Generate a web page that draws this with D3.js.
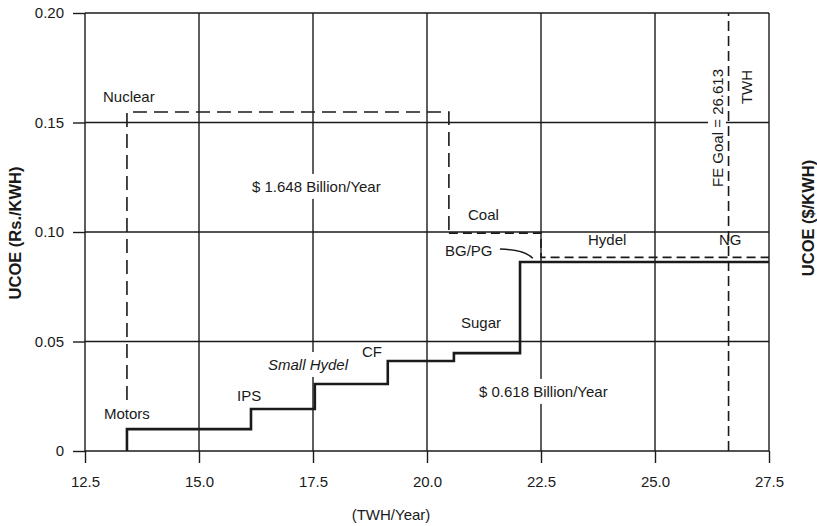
<!DOCTYPE html>
<html>
<head>
<meta charset="utf-8">
<script src="https://cdn.jsdelivr.net/npm/d3@7"></script>
<style>
  html, body { margin: 0; padding: 0; background: #fff; }
  svg { display: block; font-family: "Liberation Sans", Arial, Helvetica, sans-serif; }
</style>
</head>
<body>
<svg id="chart" width="817" height="526"></svg>
<script>
// ---- data ----
const xTicks = [12.5, 15, 17.5, 20, 22.5, 25, 27.5];
const xTickLabels = ["12.5", "15.0", "17.5", "20.0", "22.5", "25.0", "27.5"];
const yTicks = [0, 0.05, 0.10, 0.15, 0.20];
const yTickLabels = ["0", "0.05", "0.10", "0.15", "0.20"];

// renewable supply step curve (TWH/Year breakpoints, UCOE levels)
const supplyBreaks = [13.42, 16.14, 17.54, 19.14, 20.59, 22.04, 27.5];
const supplyCost = [0.010, 0.0192, 0.0306, 0.0411, 0.0447, 0.0863];
const supplyNames = ["Motors", "IPS", "Small Hydel", "CF", "Sugar", "BG/PG"];

// conventional supply (dashed)
const convBreaks = [13.42, 20.48, 22.5, 27.5];
const convCost = [0.1548, 0.0995, 0.0884];
const convNames = ["Nuclear", "Coal", "Hydel / NG"];
const convStartCost = 0.0233;

const feGoal = 26.613;

// annotations (data units)
const labels = [
  { t: "Nuclear", x: 12.895, y: 0.1594 },
  { t: "$ 1.648 Billion/Year", x: 16.162, y: 0.1183, bg: true },
  { t: "Coal", x: 20.899, y: 0.1055 },
  { t: "BG/PG", x: 20.395, y: 0.0890 },
  { t: "Hydel", x: 23.531, y: 0.0941 },
  { t: "NG", x: 26.404, y: 0.0941 },
  { t: "Sugar", x: 20.746, y: 0.0562 },
  { t: "CF", x: 18.575, y: 0.0429 },
  { t: "Small Hydel", x: 16.513, y: 0.0370, italic: true, bg: true },
  { t: "IPS", x: 15.833, y: 0.0228 },
  { t: "Motors", x: 12.917, y: 0.0146 },
  { t: "$ 0.618 Billion/Year", x: 21.140, y: 0.0247, bg: true }
];
const rotLabels = [
  { t: "FE Goal = 26.613", x: 26.49, y: 0.1475, bg: true },
  { t: "TWH", x: 27.13, y: 0.1662 }
];
const arrow = { x0: 21.60, y0: 0.0922, cx: 22.15, cy: 0.0918, x1: 22.32, y1: 0.0880 };

// ---- layout ----
const W = 817, H = 526;
const m = { left: 85, right: 48, top: 13, bottom: 75 };
const ink = "#1a1a1a";
const svg = d3.select("#chart");
const x = d3.scaleLinear().domain([12.5, 27.5]).range([m.left, W - m.right]);
const y = d3.scaleLinear().domain([0, 0.20]).range([H - m.bottom, m.top]);

// grid + frame
const grid = svg.append("g").attr("stroke", ink).attr("stroke-width", 1.4);
xTicks.forEach(v => grid.append("line")
  .attr("x1", x(v)).attr("x2", x(v)).attr("y1", y(0)).attr("y2", y(0.20)));
yTicks.forEach(v => grid.append("line")
  .attr("x1", x(12.5)).attr("x2", x(27.5)).attr("y1", y(v)).attr("y2", y(v)));

// axes
const xAxis = d3.axisBottom(x).tickValues(xTicks)
  .tickFormat((d, i) => xTickLabels[i]).tickSize(12).tickPadding(13);
const gx = svg.append("g").attr("transform", `translate(0,${y(0)})`).call(xAxis);
const yAxis = d3.axisLeft(y).tickValues(yTicks)
  .tickFormat((d, i) => yTickLabels[i]).tickSize(12).tickPadding(9);
const gy = svg.append("g").attr("transform", `translate(${x(12.5)},0)`).call(yAxis);
[gx, gy].forEach(g => {
  g.select(".domain").remove();
  g.selectAll(".tick line").attr("stroke", ink).attr("stroke-width", 1.4);
  g.selectAll(".tick text").attr("fill", ink).attr("font-size", 15)
    .attr("font-family", "'Liberation Sans', Arial, sans-serif");
});

// label layer with white backgrounds
const bgLayer = svg.append("g");
const lineLayer = svg.append("g");
const textLayer = svg.append("g").attr("fill", ink).attr("font-size", 15);

labels.forEach(l => {
  const t = textLayer.append("text")
    .attr("x", x(l.x)).attr("y", y(l.y))
    .attr("font-style", l.italic ? "italic" : null)
    .text(l.t);
  if (l.bg) {
    const b = t.node().getBBox();
    bgLayer.append("rect").attr("x", b.x - 3).attr("y", b.y - 4)
      .attr("width", b.width + 6).attr("height", b.height + 8).attr("fill", "#fff");
  }
});
rotLabels.forEach(l => {
  const g = textLayer.append("g")
    .attr("transform", `translate(${x(l.x)},${y(l.y)}) rotate(-90)`);
  const t = g.append("text").attr("text-anchor", "middle").text(l.t);
  if (l.bg) {
    const b = t.node().getBBox();
    bgLayer.append("g")
      .attr("transform", `translate(${x(l.x)},${y(l.y)}) rotate(-90)`)
      .append("rect").attr("x", b.x - 3).attr("y", b.y - 1)
      .attr("width", b.width + 6).attr("height", b.height + 1).attr("fill", "#fff");
  }
});

// supply step line
const line = d3.line().x(d => x(d[0])).y(d => y(d[1]));
const supplyPts = [[supplyBreaks[0], 0]];
supplyCost.forEach((c, i) => {
  supplyPts.push([supplyBreaks[i], c]);
  supplyPts.push([supplyBreaks[i + 1], c]);
});
lineLayer.append("path").attr("d", line(supplyPts))
  .attr("fill", "none").attr("stroke", ink).attr("stroke-width", 2.6)
  .attr("stroke-linejoin", "miter");

// conventional dashed line (nuclear part + coal/hydel part)
const convA = [[convBreaks[0], convStartCost], [convBreaks[0], convCost[0]],
               [convBreaks[1], convCost[0]], [convBreaks[1], convCost[1]]];
const convB = [[convBreaks[1], convCost[1]], [convBreaks[2], convCost[1]],
               [convBreaks[2], convCost[2]], [convBreaks[3], convCost[2]]];
lineLayer.append("path").attr("d", line(convA))
  .attr("fill", "none").attr("stroke", ink).attr("stroke-width", 1.6)
  .attr("stroke-dasharray", "14,7");
lineLayer.append("path").attr("d", line(convB))
  .attr("fill", "none").attr("stroke", ink).attr("stroke-width", 1.6)
  .attr("stroke-dasharray", "9,5");

// FE goal vertical dashed line
lineLayer.append("line")
  .attr("x1", x(feGoal)).attr("x2", x(feGoal)).attr("y1", y(0)).attr("y2", y(0.20))
  .attr("stroke", ink).attr("stroke-width", 1.6).attr("stroke-dasharray", "10,5");

// BG/PG pointer
const p = d3.path();
p.moveTo(x(arrow.x0), y(arrow.y0));
p.quadraticCurveTo(x(arrow.cx), y(arrow.cy), x(arrow.x1), y(arrow.y1));
lineLayer.append("path").attr("d", p.toString())
  .attr("fill", "none").attr("stroke", ink).attr("stroke-width", 1.5);

// axis titles
svg.append("text").attr("transform", `translate(21,233) rotate(-90)`)
  .attr("text-anchor", "middle").attr("font-size", 16.5).attr("font-weight", "bold")
  .attr("fill", ink).text("UCOE (Rs./KWH)");
svg.append("text").attr("transform", `translate(814,218) rotate(-90)`)
  .attr("text-anchor", "middle").attr("font-size", 16.5).attr("font-weight", "bold")
  .attr("fill", ink).text("UCOE ($/KWH)");
svg.append("text").attr("x", 391).attr("y", 520)
  .attr("text-anchor", "middle").attr("font-size", 15)
  .attr("fill", ink).text("(TWH/Year)");
</script>
</body>
</html>
